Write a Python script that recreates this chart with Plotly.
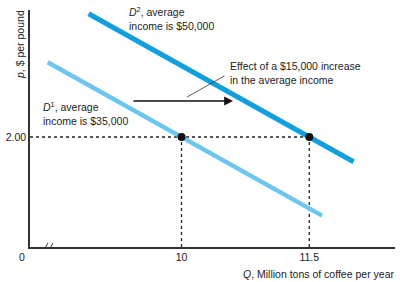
import plotly.graph_objects as go

# ---- data ----
d1_q = [8.43, 10.0, 11.65]
d1_p = [3.36, 2.00, 0.57]
d2_q = [8.91, 11.5, 12.02]
d2_p = [4.24, 2.00, 1.55]
eq_q = [10.0, 11.5]
eq_p = [2.00, 2.00]
x_tickvals = [10, 11.5]
x_ticktext = ["10", "11.5"]
y_tickvals = [2.0]
y_ticktext = ["2.00"]

W, H = 400, 282
ML, MR, MT, MB = 30, 5, 10, 35
XR = [8.222, 12.506]
YR = [0.0, 4.309]

def px2x(px):
    return XR[0] + (px - ML) / (W - ML - MR) * (XR[1] - XR[0])

def px2y(py):
    return YR[0] + (H - MB - py) / (H - MT - MB) * (YR[1] - YR[0])

def px2px(px):
    return (px - ML) / (W - ML - MR)

def py2py(py):
    return (H - MB - py) / (H - MT - MB)

FONT = "Liberation Sans, Arial, sans-serif"
TXT = "#222222"

fig = go.Figure()

# dotted guide lines
fig.add_trace(go.Scatter(x=[XR[0], eq_q[1]], y=[eq_p[0], eq_p[1]], mode="lines",
                         line=dict(color="#222", width=1.3, dash="dot"), hoverinfo="skip"))
for q, p in zip(eq_q, eq_p):
    fig.add_trace(go.Scatter(x=[q, q], y=[YR[0], p], mode="lines",
                             line=dict(color="#222", width=1.3, dash="dot"), hoverinfo="skip"))

fig.add_trace(go.Scatter(x=d1_q, y=d1_p, mode="lines",
                         line=dict(color="#6cc6ee", width=4.5), hoverinfo="skip"))
fig.add_trace(go.Scatter(x=d2_q, y=d2_p, mode="lines",
                         line=dict(color="#129fde", width=5), hoverinfo="skip"))
fig.add_trace(go.Scatter(x=eq_q, y=eq_p, mode="markers",
                         marker=dict(color="#111", size=8), hoverinfo="skip"))

annos = []
# shift arrow
annos.append(dict(x=px2x(233), y=px2y(101), ax=px2x(132), ay=px2y(101),
                  xref="x", yref="y", axref="x", ayref="y", text="",
                  showarrow=True, arrowhead=2, arrowsize=1.1, arrowwidth=1.6, arrowcolor="#111"))
# leader line
annos.append(dict(x=px2x(187), y=px2y(97), ax=px2x(226), ay=px2y(75),
                  xref="x", yref="y", axref="x", ayref="y", text="",
                  showarrow=True, arrowhead=0, arrowwidth=0.8, arrowcolor="#333"))

def txt(x, y, s, xanchor="left", yanchor="middle", size=10.5, angle=0):
    annos.append(dict(x=px2px(x), y=py2py(y), xref="paper", yref="paper", text=s, showarrow=False,
                      xanchor=xanchor, yanchor=yanchor, align="left", textangle=angle,
                      font=dict(family=FONT, size=size, color=TXT)))

txt(228, 73, "Effect of a $15,000 increase<br>in the average income")
txt(127, 19, "<i>D</i><sup>2</sup>, average<br>income is $50,000")
txt(41, 113, "<i>D</i><sup>1</sup>, average<br>income is $35,000")
txt(22, 257, "0", xanchor="center")
txt(396, 274, "<i>Q</i>, Million tons of coffee per year", xanchor="right")
txt(20, 45, "<i>p</i>, $ per pound", xanchor="center", angle=-90)

fig.update_layout(annotations=annos)

# axis break slashes
for x0 in (44, 49):
    fig.add_shape(type="line", xref="x", yref="y",
                  x0=px2x(x0), y0=px2y(250), x1=px2x(x0 + 4), y1=px2y(243),
                  line=dict(color="#333", width=1))

fig.update_layout(
    width=W, height=H,
    margin=dict(l=ML, r=MR, t=MT, b=MB),
    paper_bgcolor="white", plot_bgcolor="white",
    showlegend=False,
    font=dict(family=FONT, size=10.5, color=TXT),
    xaxis=dict(range=XR, showgrid=False, zeroline=False, showline=True,
               linecolor="#333", linewidth=1.5, tickvals=x_tickvals, ticktext=x_ticktext,
               ticks="", ticklen=0, tickfont=dict(size=10.5), fixedrange=True),
    yaxis=dict(range=YR, showgrid=False, zeroline=False, showline=True,
               linecolor="#333", linewidth=1.5, tickvals=y_tickvals, ticktext=y_ticktext,
               ticks="", ticklen=0, tickfont=dict(size=10.5), fixedrange=True),
)

fig.write_html("out.html")
